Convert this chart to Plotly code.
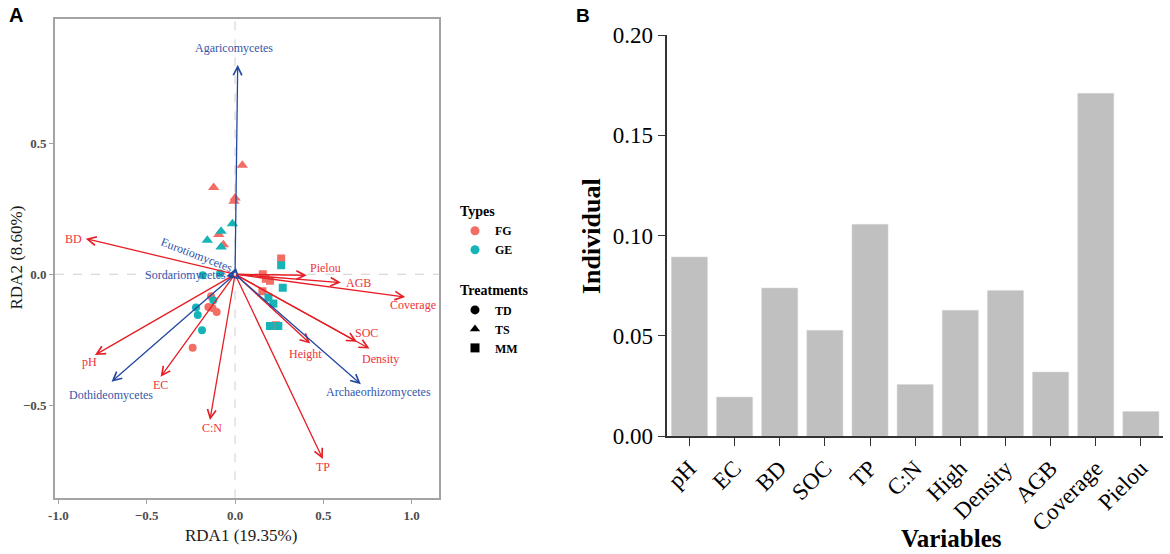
import plotly.graph_objects as go

#-------------------------------------------------------------------------------
#  A : RDA biplot, B : individual explained variation
#-------------------------------------------------------------------------------

# environmental arrows (red)
env_names = ["pH", "EC", "BD", "SOC", "TP", "C:N", "Height", "Density", "AGB", "Coverage", "Pielou"]
env_rda1 = [-0.793, -0.421, -0.845, 0.690, 0.497, -0.142, 0.425, 0.761, 0.599, 0.963, 0.406]
env_rda2 = [-0.309, -0.392, 0.136, -0.258, -0.706, -0.557, -0.265, -0.284, -0.032, -0.087, -0.004]

# fungal classes (blue)
taxa_names = ["Agaricomycetes", "Eurotiomycetes", "Sordariomycetes", "Dothideomycetes", "Archaeorhizomycetes"]
taxa_rda1 = [0.015, 0.005, -0.050, -0.699, 0.712]
taxa_rda2 = [0.800, 0.025, -0.008, -0.411, -0.420]

# sample scores
site_rda1 = [0.041, -0.121, 0.000, -0.006, -0.092, -0.066,
             -0.015, -0.079, -0.157, -0.079,
             0.261, 0.157, 0.174, 0.198, 0.155, 0.230,
             0.261, 0.270, 0.189, 0.217, 0.198, 0.245,
             -0.136, -0.151, -0.128, -0.104, -0.240,
             -0.183, -0.085, -0.123, -0.221, -0.211, -0.187]
site_rda2 = [0.416, 0.331, 0.291, 0.279, 0.152, 0.113,
             0.193, 0.164, 0.130, 0.104,
             0.060, 0.000, -0.017, -0.025, -0.065, -0.195,
             0.034, -0.052, -0.089, -0.112, -0.198, -0.198,
             -0.084, -0.125, -0.129, -0.144, -0.281,
             -0.004, 0.003, -0.099, -0.127, -0.156, -0.214]
site_type = ["FG"] * 6 + ["GE"] * 4 + ["FG"] * 6 + ["GE"] * 6 + ["FG"] * 5 + ["GE"] * 6
site_treat = ["TS"] * 10 + ["MM"] * 12 + ["TD"] * 11

types = ["FG", "GE"]
treatments = ["TD", "TS", "MM"]

# bar chart
bar_vars = ["pH", "EC", "BD", "SOC", "TP", "C:N", "High", "Density", "AGB", "Coverage", "Pielou"]
bar_vals = [0.0893, 0.0194, 0.0738, 0.0527, 0.1056, 0.0257, 0.0627, 0.0726, 0.0319, 0.1709, 0.0122]

#-------------------------------------------------------------------------------

W, H = 1170, 554
SERIF = "Liberation Serif, Times New Roman, serif"
SANS = "Liberation Sans, Arial, sans-serif"

type_col = {"FG": "#F26D63", "GE": "#17B4B7"}
treat_sym = {"TD": "circle", "TS": "triangle-up", "MM": "square"}
treat_size = {"TD": 8, "TS": 10, "MM": 8}
RED, RED_TXT = "#E61E25", "#EE3339"
BLUE, BLUE_TXT = "#2348A0", "#3556A8"

# label placement relative to arrow tip (xshift, yshift in px)
env_lab = {"pH": (-5, -7), "EC": (0, -8), "BD": (-12, 0), "SOC": (10, 9), "TP": (0, -8),
           "C:N": (2, -8), "Height": (-5, -10), "Density": (11, -10), "AGB": (18, 0),
           "Coverage": (8, -8), "Pielou": (19, 7)}
taxa_lab = {"Agaricomycetes": (-4, 17, 0), "Eurotiomycetes": (-39, 13, 21),
            "Sordariomycetes": (-41, 1, 0), "Dothideomycetes": (-1, -13, 0),
            "Archaeorhizomycetes": (18, -8, 0)}

def px(a, b, n):
    return [a / n, b / n]

fig = go.Figure()

# sample points
for t in types:
    for tr in treatments:
        xs = [x for x, ty, tt in zip(site_rda1, site_type, site_treat) if ty == t and tt == tr]
        ys = [y for y, ty, tt in zip(site_rda2, site_type, site_treat) if ty == t and tt == tr]
        fig.add_trace(go.Scatter(
            x=xs, y=ys, mode="markers", xaxis="x", yaxis="y", showlegend=False,
            marker=dict(color=type_col[t], symbol=treat_sym[tr], size=treat_size[tr], line_width=0),
            hoverinfo="x+y"))

# legend entries
for i, t in enumerate(types):
    fig.add_trace(go.Scatter(
        x=[None], y=[None], mode="markers", name=t, legendgroup="types",
        legendgrouptitle=dict(text="Types") if i == 0 else None,
        marker=dict(color=type_col[t], symbol="circle", size=9)))
for i, tr in enumerate(treatments):
    fig.add_trace(go.Scatter(
        x=[None], y=[None], mode="markers", name=tr, legendgroup="treat",
        legendgrouptitle=dict(text="Treatments") if i == 0 else None,
        marker=dict(color="black", symbol=treat_sym[tr], size=9)))

# bars
fig.add_trace(go.Bar(
    x=bar_vars, y=bar_vals, xaxis="x2", yaxis="y2", showlegend=False,
    marker=dict(color="#C0C0C0", line=dict(color="#D6D6D6", width=0.5)), width=0.8))

ann = []
arrow = dict(text="", showarrow=True, xref="x", yref="y", axref="x", ayref="y",
             ax=0, ay=0, arrowhead=5, arrowsize=1.3, standoff=0, startstandoff=0)
for n, x, y in zip(env_names, env_rda1, env_rda2):
    ann.append(dict(arrow, x=x, y=y, arrowcolor=RED, arrowwidth=1.3))
    dx, dy = env_lab[n]
    ann.append(dict(text=n, x=x, y=y, xref="x", yref="y", showarrow=False,
                    xanchor="center", yanchor="middle",
                    xshift=dx, yshift=dy, font=dict(family=SERIF, size=12, color=RED_TXT)))
for n, x, y in zip(taxa_names, taxa_rda1, taxa_rda2):
    ann.append(dict(arrow, x=x, y=y, arrowcolor=BLUE, arrowwidth=1.3))
    dx, dy, ang = taxa_lab[n]
    ann.append(dict(text=n, x=x, y=y, xref="x", yref="y", showarrow=False,
                    xanchor="center", yanchor="middle",
                    xshift=dx, yshift=dy, textangle=ang,
                    font=dict(family=SERIF, size=12, color=BLUE_TXT)))

# axis titles and panel tags (paper coords, centred)
def label(text, x, y, size, family=SERIF, bold=False, angle=0, color="black"):
    return dict(text=text, x=x / W, y=1 - y / H, xref="paper", yref="paper",
                xanchor="center", yanchor="middle", showarrow=False, textangle=angle,
                font=dict(family=family, size=size, color=color,
                          weight="bold" if bold else "normal"))

ann += [
    label("RDA1 (19.35%)", 240.7, 535, 17, color="#1a1a1a"),
    label("RDA2 (8.60%)", 15.5, 258, 17, angle=-90, color="#1a1a1a"),
    label("Individual", 591, 236, 26, bold=True, angle=-90),
    label("Variables", 951, 538, 25, bold=True),
    label("A", 15.5, 15.5, 20, family=SANS, bold=True),
    label("B", 583, 16, 19, family=SANS, bold=True),
]

zero = dict(color="#CFCFCF", width=1, dash="dash")
shapes = [
    dict(type="line", xref="x", yref="y domain", x0=0, x1=0, y0=0, y1=1, line=zero, layer="below"),
    dict(type="line", xref="x domain", yref="y", x0=0, x1=1, y0=0, y1=0, line=zero, layer="below"),
]

a_tick = dict(family=SERIF, size=13, color="#4D4D4D", weight="bold")
fig.update_layout(
    width=W, height=H, margin=dict(l=0, r=0, t=0, b=0, autoexpand=False),
    paper_bgcolor="white", plot_bgcolor="white",
    font=dict(family=SERIF),
    xaxis=dict(domain=px(55, 439.3, W), range=[-1.019, 1.156], automargin=False,
               tickvals=[-1, -0.5, 0, 0.5, 1], ticktext=["-1.0", "\u22120.5", "0.0", "0.5", "1.0"],
               showline=True, mirror=True, linecolor="#A3A3A3", linewidth=1.6,
               ticks="outside", ticklen=4, tickcolor="#A3A3A3", tickfont=a_tick,
               showgrid=False, zeroline=False, anchor="y"),
    yaxis=dict(domain=[1 - 498.3 / H, 1 - 19.3 / H], range=[-0.856, 0.974], automargin=False,
               tickvals=[-0.5, 0, 0.5], ticktext=["\u22120.5", "0.0", "0.5"],
               showline=True, mirror=True, linecolor="#A3A3A3", linewidth=1.6,
               ticks="outside", ticklen=4, tickcolor="#A3A3A3", tickfont=a_tick,
               showgrid=False, zeroline=False, anchor="x"),
    xaxis2=dict(domain=px(667.3, 1163, W), range=[-0.49, 10.49], anchor="y2", automargin=False,
                showline=True, linecolor="#333333", linewidth=1.5,
                ticks="outside", ticklen=8, tickcolor="#333333", tickangle=-45,
                tickfont=dict(family=SERIF, size=23, color="black"),
                showgrid=False, zeroline=False),
    yaxis2=dict(domain=[1 - 436 / H, 1 - 35 / H], range=[0, 0.2], anchor="x2", automargin=False,
                tickvals=[0, 0.05, 0.10, 0.15, 0.20], tickformat=".2f",
                showline=True, linecolor="#333333", linewidth=1.5,
                ticks="outside", ticklen=8, tickcolor="#333333",
                tickfont=dict(family=SERIF, size=23, color="black"),
                showgrid=False, zeroline=False),
    legend=dict(x=455 / W, y=1 - 195 / H, xanchor="left", yanchor="top",
                traceorder="grouped", tracegroupgap=20, itemwidth=30,
                font=dict(family=SERIF, size=12, color="black", weight="bold"),
                grouptitlefont=dict(family=SERIF, size=14, color="black", weight="bold"),
                bgcolor="rgba(0,0,0,0)"),
    annotations=ann, shapes=shapes,
    bargap=0.2,
)

# drop the default page margin so the figure sits at the window corner
fig.write_html("out.html", config={"displayModeBar": False},
               post_script="document.body.style.margin = '0';")
